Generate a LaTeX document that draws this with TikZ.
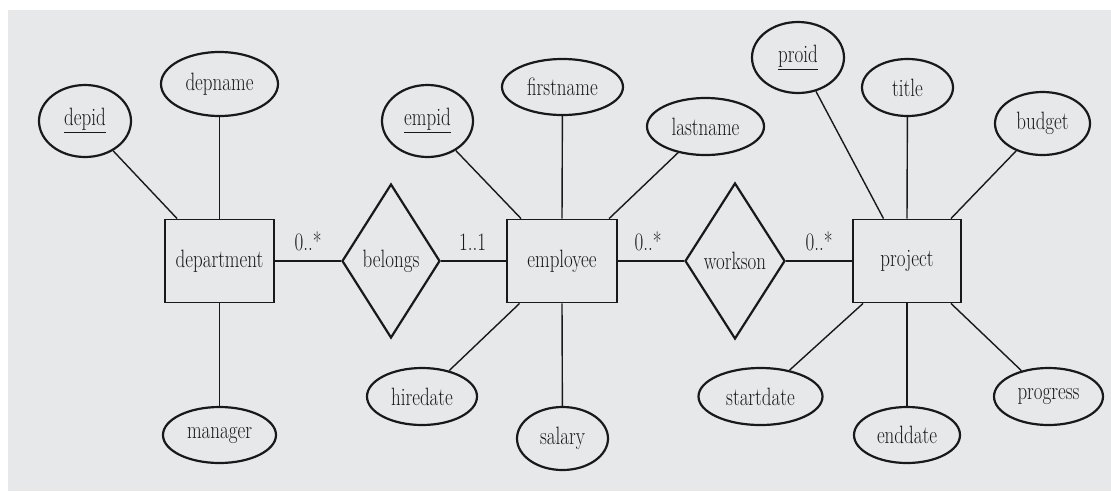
\documentclass[tikz,border=0pt]{standalone}
\usepackage{fontspec}
\setmainfont{Latin Modern Roman}
\usetikzlibrary{shapes.geometric}
\definecolor{bg}{RGB}{231,232,233}
\definecolor{ink}{RGB}{25,25,25}
% labels are set slightly taller than wide
\newcommand{\tx}[1]{\scalebox{1}[1.32]{#1}}
\begin{document}
\begin{tikzpicture}[x=1pt,y=-1pt,
  font=\fontsize{19}{22}\selectfont,
  every node/.style={text=ink},
  entity/.style={draw=ink, line width=1.8pt, rectangle, minimum width=109pt, minimum height=83pt, inner sep=0pt},
  attr/.style={draw=ink, line width=2.2pt, ellipse, inner sep=0pt},
  rel/.style={draw=ink, line width=2.2pt, diamond, inner sep=0pt, minimum width=99pt, minimum height=154pt},
  link/.style={draw=ink, line width=1.4pt},
  card/.style={anchor=base, inner sep=0pt}]

% canvas
\useasboundingbox (0,0) rectangle (1111,491);
\fill[white] (0,0) rectangle (1111,491);
\fill[bg] (8,10) rectangle (1111,491);

% entities
\node[entity] (dept) at (219.5,261) {\tx{department}};
\node[entity, minimum width=110pt] (emp) at (562,261) {\tx{employee}};
\node[entity, minimum width=108pt] (proj) at (907,261) {\tx{project}};

% relationships
\node[rel, minimum width=98pt] (bel) at (391,261) {\tx{belongs}};
\node[rel, minimum width=100pt, minimum height=156pt] (work) at (735,261) {\tx{workson}};

% department attributes
\node[attr, minimum width=92pt, minimum height=72pt] (depid) at (85,121) {\tx{\underline{depid}}};
\node[attr, minimum width=117pt, minimum height=64pt] (depname) at (219.5,84) {\tx{depname}};
\node[attr, minimum width=113pt, minimum height=56pt] (manager) at (219.5,435) {\tx{manager}};

% employee attributes
\node[attr, minimum width=91pt, minimum height=72pt] (empid) at (427.5,121) {\tx{\underline{empid}}};
\node[attr, minimum width=121pt, minimum height=56pt] (firstname) at (562.5,87) {\tx{firstname}};
\node[attr, minimum width=117pt, minimum height=57pt] (lastname) at (705.5,126.5) {\tx{lastname}};
\node[attr, minimum width=110pt, minimum height=57pt] (hiredate) at (422,396.5) {\tx{hiredate}};
\node[attr, minimum width=91pt, minimum height=63pt] (salary) at (562.5,438.5) {\tx{salary}};

% project attributes
\node[attr, minimum width=92pt, minimum height=71pt] (proid) at (798,57.5) {\tx{\underline{proid}}};
\node[attr, minimum width=91pt, minimum height=57pt] (title) at (907.5,87.5) {\tx{title}};
\node[attr, minimum width=95pt, minimum height=63pt] (budget) at (1042.5,123.5) {\tx{budget}};
\node[attr, minimum width=124pt, minimum height=57pt] (startdate) at (760.5,396.5) {\tx{startdate}};
\node[attr, minimum width=106pt, minimum height=56pt] (enddate) at (907,435) {\tx{enddate}};
\node[attr, minimum width=109pt, minimum height=57pt] (progress) at (1048.5,396.5) {\tx{progress}};

% relationship lines
\draw[link] (dept) -- (bel);
\draw[link] (bel) -- (emp);
\draw[link] (emp) -- (work);
\draw[link] (work) -- (proj);

% attribute lines
\draw[link] (dept.135) -- (depid);
\draw[link] (dept.north) -- (depname);
\draw[link] (dept.south) -- (manager);

\draw[link] (emp.134) -- (empid);
\draw[link] (emp.north) -- (firstname);
\draw[link] (emp.42) -- (lastname);
\draw[link] (emp.225) -- (hiredate);
\draw[link] (emp.south) -- (salary);

\draw[link] (proj.119) -- (proid);
\draw[link] (proj.north) -- (title);
\draw[link] (proj.44) -- (budget);
\draw[link] (proj.224) -- (startdate);
\draw[link] (proj.south) -- (enddate);
\draw[link] (proj.316) -- (progress);

% cardinalities
\node[card] (c1) at (308,250) {\tx{0..*}};
\node[card] (c2) at (472.5,250) {\tx{1..1}};
\node[card] (c3) at (648,250) {\tx{0..*}};
\node[card] (c4) at (819,250) {\tx{0..*}};
\end{tikzpicture}
\end{document}
